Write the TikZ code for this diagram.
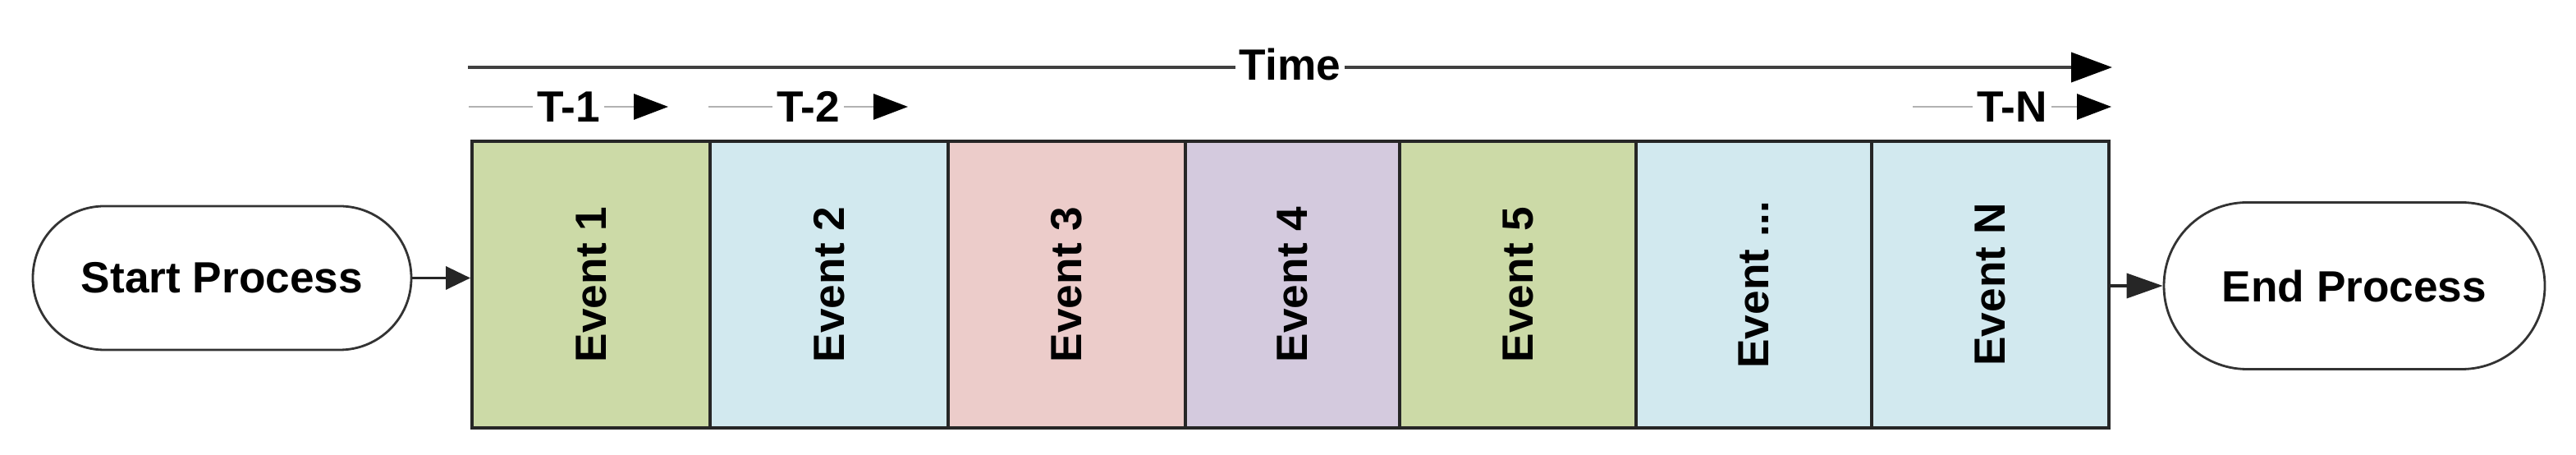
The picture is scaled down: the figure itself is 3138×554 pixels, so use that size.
\documentclass[tikz,border=0pt]{standalone}
\usepackage{fontspec}
\setmainfont{Liberation Sans}
\usetikzlibrary{arrows.meta}
\definecolor{evgreen}{RGB}{204,218,167}
\definecolor{evblue}{RGB}{210,233,239}
\definecolor{evpink}{RGB}{236,204,202}
\definecolor{evpurple}{RGB}{212,202,222}
\begin{document}
\begin{tikzpicture}[x=0.25pt,y=-0.25pt,
  every node/.style={font=\bfseries\fontsize{13.3}{16}\selectfont},
  evbox/.style={draw=black!85, line width=1pt, minimum height=87.25pt, inner sep=0pt},
  term/.style={draw=black!80, line width=0.7pt, fill=white, inner sep=0pt},
  conn/.style={draw=black!85, line width=0.9pt},
  timeline/.style={draw=black!75, line width=1pt, -{Triangle[length=12.5pt,width=9pt,color=black]}},
  tline/.style={draw=black!30, line width=0.6pt, -{Triangle[length=10.5pt,width=7.8pt,color=black]}},
  lbl/.style={fill=white, inner sep=1.2pt}]
\path[fill=white,use as bounding box] (0,0) rectangle (3138,554);

% terminators
\node[term, minimum width=115.25pt, minimum height=43.75pt, rounded corners=21.8pt] (start) at (270.5,338.5) {Start Process};
\node[term, minimum width=116pt, minimum height=50.75pt, rounded corners=25.3pt] (end) at (2868,348) {End Process};

% events
\node[evbox, fill=evgreen,  minimum width=72.5pt]  (e1) at (720,346.5)   {\rotatebox{90}{Event 1}};
\node[evbox, fill=evblue,   minimum width=72.5pt]  (e2) at (1010,346.5)  {\rotatebox{90}{Event 2}};
\node[evbox, fill=evpink,   minimum width=72.25pt] (e3) at (1299.5,346.5){\rotatebox{90}{Event 3}};
\node[evbox, fill=evpurple, minimum width=65.25pt] (e4) at (1574.5,346.5){\rotatebox{90}{Event 4}};
\node[evbox, fill=evgreen,  minimum width=72pt]    (e5) at (1849,346.5)  {\rotatebox{90}{Event 5}};
\node[evbox, fill=evblue,   minimum width=71.75pt] (e6) at (2136.5,346.5){\rotatebox{90}{Event ...}};
\node[evbox, fill=evblue,   minimum width=72.25pt] (eN) at (2424.5,346.5){\rotatebox{90}{Event N}};

% connectors
\draw[conn, -{Triangle[length=7.5pt,width=7pt]}] (start.east) -- (start.east -| e1.west);
\draw[conn, -{Triangle[length=11pt,width=7.5pt]}] (end.west -| eN.east) -- (end.west);

% time axis
\coordinate (ts) at (570,82);
\coordinate (te) at (2573,82);
\draw[timeline] (ts) -- node[lbl, yshift=1pt] {Time} (te);

% period arrows
\coordinate (t1s) at (571,130);
\coordinate (t1e) at (814,130);
\coordinate (t2s) at (863,130);
\coordinate (t2e) at (1106,130);
\coordinate (tNs) at (2330,130);
\coordinate (tNe) at (2572,130);
\draw[tline] (t1s) -- node[lbl] {T-1} (t1e);
\draw[tline] (t2s) -- node[lbl] {T-2} (t2e);
\draw[tline] (tNs) -- node[lbl] {T-N} (tNe);
\end{tikzpicture}
\end{document}
